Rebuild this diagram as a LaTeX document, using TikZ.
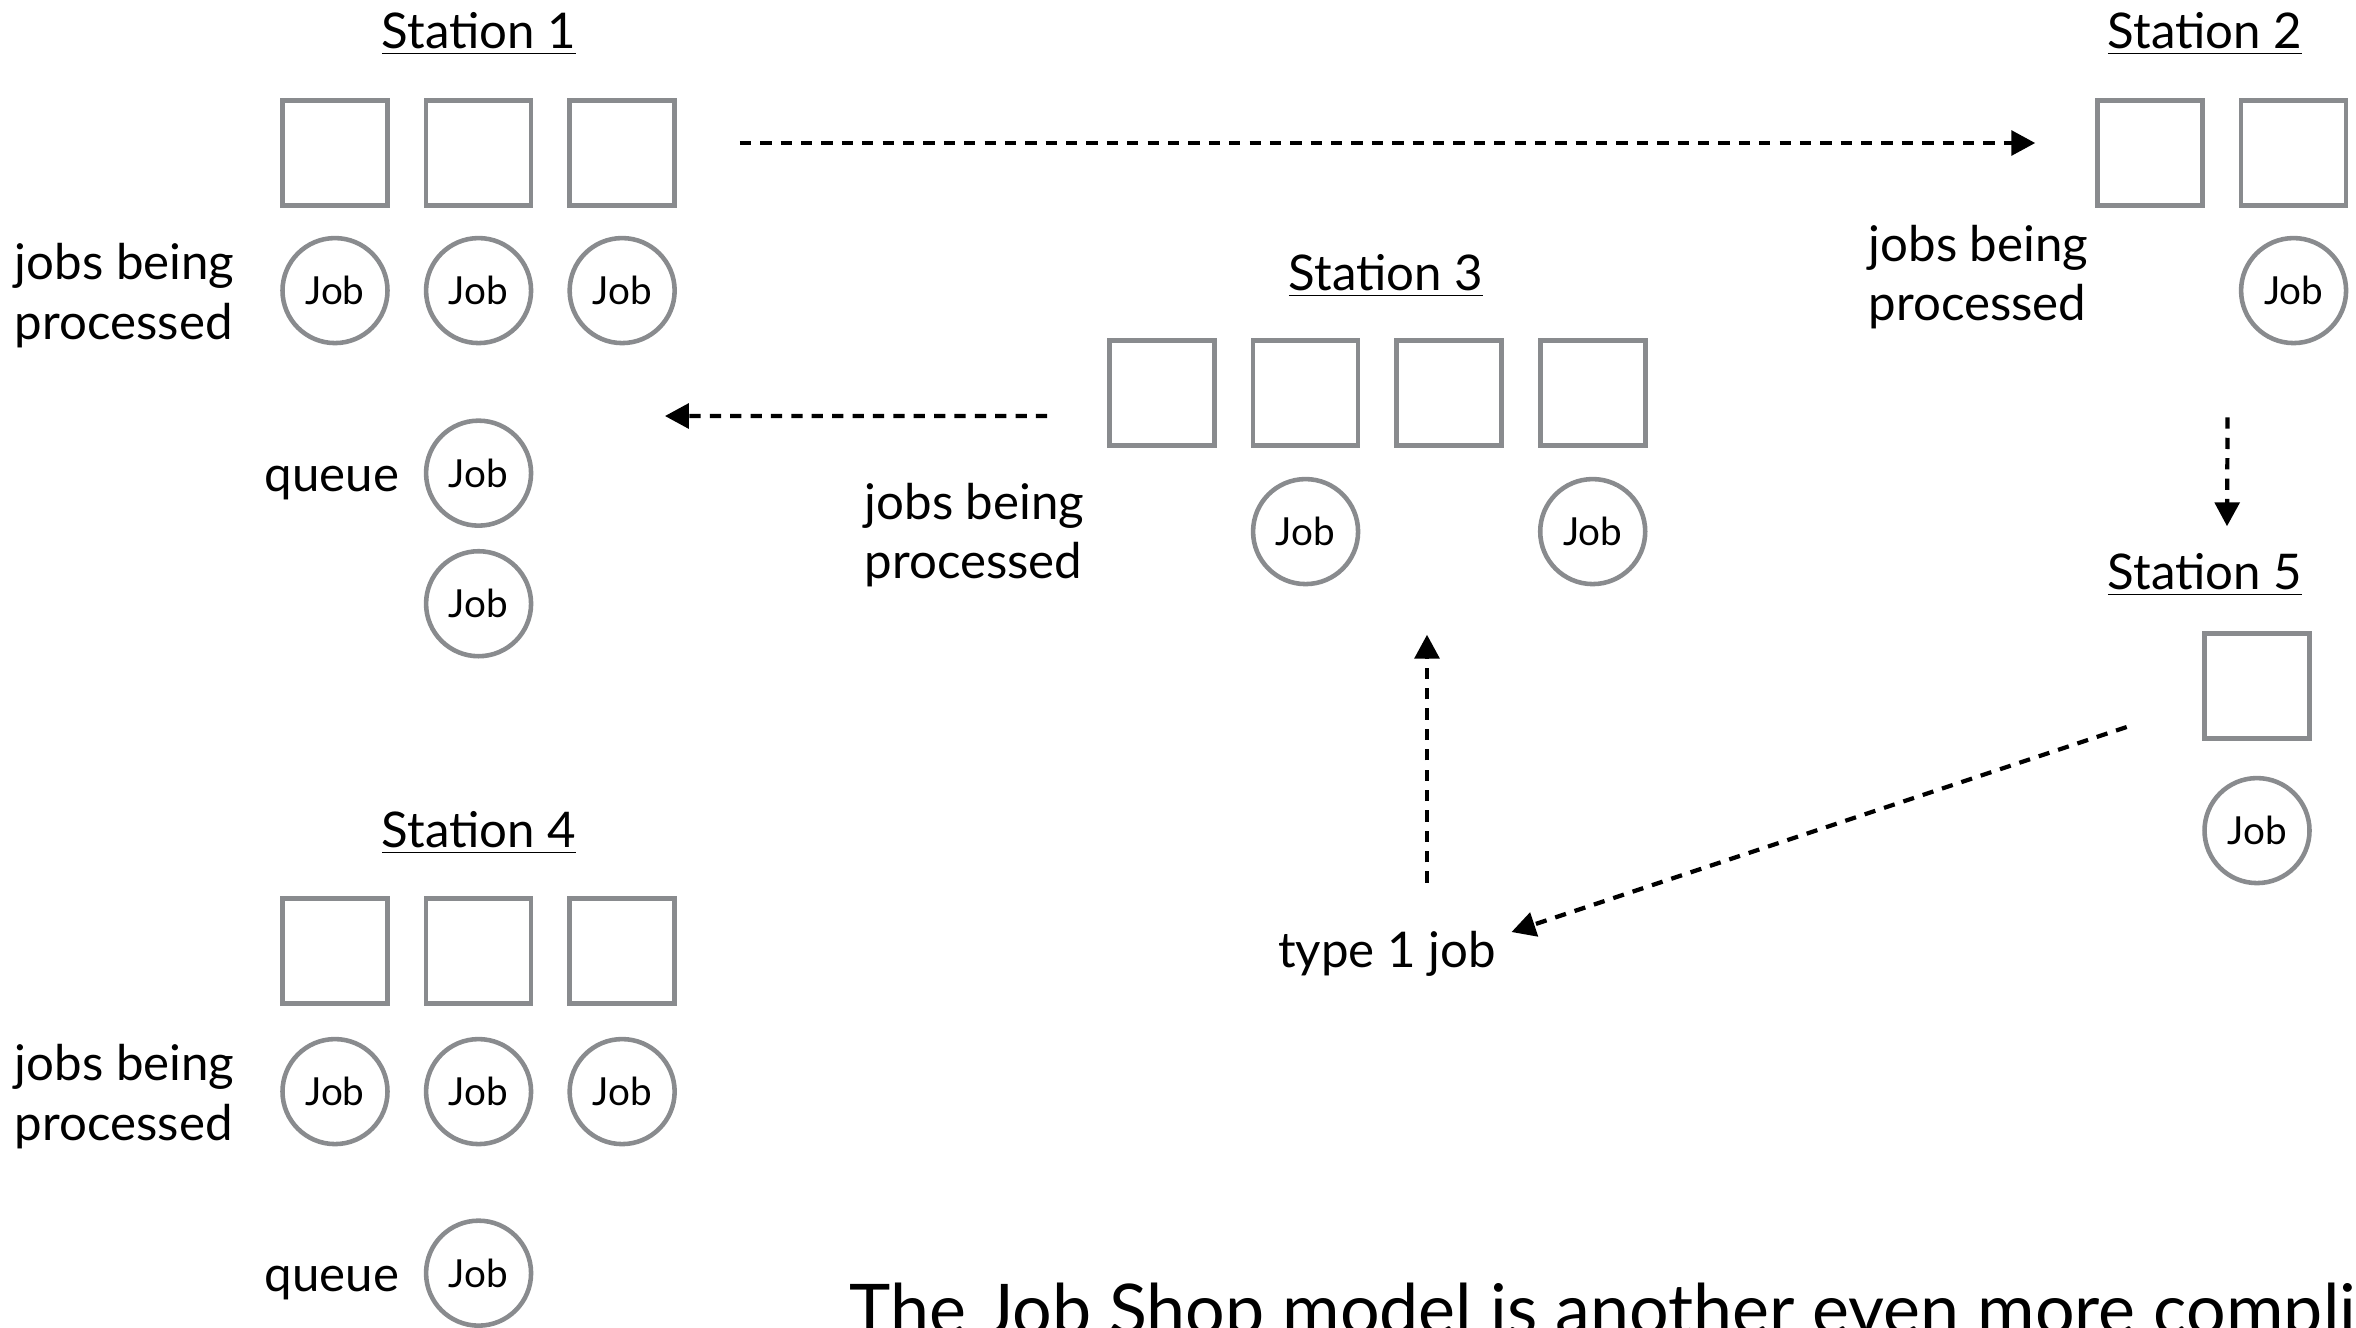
\documentclass[tikz,border=0pt]{standalone}
\usepackage{fontspec}
\setmainfont{Lato}
\usetikzlibrary{positioning,arrows.meta}
\definecolor{slotgray}{RGB}{137,139,142}

\begin{document}
    \begin{tikzpicture}[
            slot/.style={draw=slotgray, line width=1.3pt, minimum size=1.05cm, inner sep=0pt},
            job/.style={circle, draw=slotgray, line width=1.3pt, minimum size=1.05cm, inner sep=0pt, font=\fontsize{11}{13}\selectfont},
            title/.style={inner sep=0pt, font=\fontsize{14}{17}\selectfont},
            lbl/.style={align=left, inner sep=0pt, font=\fontsize{14}{17}\selectfont},
            flow/.style={-{Triangle[length=6.8pt,width=7pt]}, line width=1.2pt, dash pattern=on 3.2pt off 2.6pt}
        ]
        \useasboundingbox (0,0) rectangle (23.56,-13.27);

        % Station 1
        \node[title] (s1title) at (4.79,-0.34) {\underline{Station 1}};
        \node[slot] (s1a) at (3.35,-1.53) {};
        \node[slot, right=0.34cm of s1a] (s1b) {};
        \node[slot, right=0.34cm of s1b] (s1c) {};
        \node[job, below=0.28cm of s1a] (s1ja) {Job};
        \node[job, below=0.28cm of s1b] (s1jb) {Job};
        \node[job, below=0.28cm of s1c] (s1jc) {Job};
        \node[lbl, left=0.45cm of s1ja, yshift=-0.5mm] (s1lbl) {jobs being\\processed};
        \node[job, below=0.73cm of s1jb] (s1q1) {Job};
        \node[job, below=0.21cm of s1q1] (s1q2) {Job};
        \node[lbl, left=0.24cm of s1q1, yshift=-1mm] (s1qlbl) {queue};

        % Station 2
        \node[title] (s2title) at (22.05,-0.34) {\underline{Station 2}};
        \node[slot] (s2a) at (21.50,-1.53) {};
        \node[slot, right=0.34cm of s2a] (s2b) {};
        \node[job, below=0.28cm of s2b] (s2j) {Job};
        \node[lbl, anchor=east] (s2lbl) at (20.89,-2.77) {jobs being\\processed};

        % Station 3
        \node[title] (s3title) at (13.86,-2.76) {\underline{Station 3}};
        \node[slot] (s3a) at (11.62,-3.93) {};
        \node[slot, right=0.34cm of s3a] (s3b) {};
        \node[slot, right=0.34cm of s3b] (s3c) {};
        \node[slot, right=0.34cm of s3c] (s3d) {};
        \node[job, below=0.29cm of s3b] (s3jb) {Job};
        \node[job, below=0.29cm of s3d] (s3jd) {Job};
        \node[lbl, anchor=east] (s3lbl) at (10.85,-5.35) {jobs being\\processed};

        % Station 4
        \node[title] (s4title) at (4.79,-8.33) {\underline{Station 4}};
        \node[slot] (s4a) at (3.35,-9.51) {};
        \node[slot, right=0.34cm of s4a] (s4b) {};
        \node[slot, right=0.34cm of s4b] (s4c) {};
        \node[job, below=0.31cm of s4a] (s4ja) {Job};
        \node[job, below=0.31cm of s4b] (s4jb) {Job};
        \node[job, below=0.31cm of s4c] (s4jc) {Job};
        \node[lbl, left=0.45cm of s4ja, yshift=-0.5mm] (s4lbl) {jobs being\\processed};
        \node[job, below=0.72cm of s4jb] (s4q1) {Job};
        \node[lbl, left=0.24cm of s4q1, yshift=-1mm] (s4qlbl) {queue};

        % Station 5
        \node[title] (s5title) at (22.05,-5.75) {\underline{Station 5}};
        \node[slot] (s5a) at (22.57,-6.86) {};
        \node[job, below=0.35cm of s5a] (s5j) {Job};

        \node[lbl] (t1job) at (13.87,-9.54) {type 1 job};

        \node[anchor=base west, inner sep=0pt, font=\fontsize{19.9}{24}\selectfont] (note) at (8.49,-13.34) {The Job Shop model is another even more compli};

        % routing of the type 1 job
        \draw[flow] ([shift={(0.63,0.1)}]s1c.east) -- ([shift={(-0.6,0.1)}]s2a.west);
        \draw[flow] ([shift={(-0.66,-0.72)}]s2j.south) -- ([shift={(-0.30,1.05)}]s5a.north);
        \draw[flow] ([shift={(-0.755,-0.41)}]s5a.west) -- ([shift={(0.15,0.22)}]t1job.east);
        \draw[flow] ([shift={(0.40,0.48)}]t1job.north) -- ++(0,2.48);
        \draw[flow] ([shift={(-0.6,-0.23)}]s3a.west) -- ([shift={(-0.12,-2.63)}]s1c.east);
    \end{tikzpicture}
\end{document}
